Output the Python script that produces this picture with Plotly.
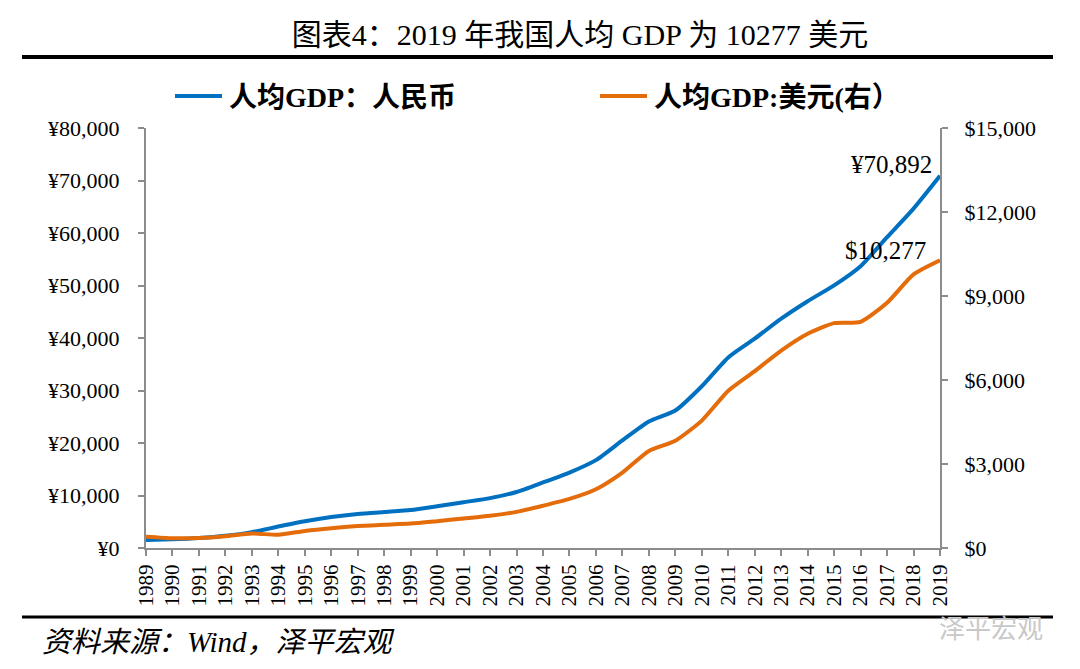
import plotly.graph_objects as go

years = list(range(1989, 2020))
gdp_rmb = [1519, 1663, 1912, 2334, 3027, 4081, 5091, 5898, 6481, 6860,
           7229, 7942, 8717, 9506, 10666, 12487, 14368, 16738, 20494, 24100,
           26180, 30808, 36302, 39874, 43684, 47005, 50028, 53680, 59201, 64644,
           70892]
gdp_usd = [403, 348, 357, 423, 520, 470, 610, 709, 782, 829,
           873, 959, 1053, 1149, 1289, 1509, 1753, 2099, 2694, 3468,
           3832, 4550, 5618, 6317, 7051, 7651, 8033, 8079, 8759, 9771,
           10277]
names = ['人均GDP：人民币', '人均GDP:美元(右）']
colors = ['#0070C0', '#E46C0A']

# page has an 8px body margin, so the figure is drawn 8px in from the window edge
OFF = 8
W, H = 1080 - OFF * 2, 669 - OFF * 2
L, R, T, B = 146 - OFF, 940 - OFF, 128 - OFF, 548 - OFF


def px_x(x):
    return (x - OFF - L) / (R - L)


def px_y(y):
    return (B - (y - OFF)) / (B - T)


serif = "Liberation Serif, Noto Sans CJK SC"

fig = go.Figure()
fig.add_trace(go.Scatter(x=years, y=gdp_rmb, mode='lines', name=names[0],
                         line=dict(color=colors[0], width=4, shape='spline', smoothing=0.6)))
fig.add_trace(go.Scatter(x=years, y=gdp_usd, mode='lines', name=names[1], yaxis='y2',
                         line=dict(color=colors[1], width=4, shape='spline', smoothing=0.6)))

axis_common = dict(showline=True, linecolor='#8c8c8c', linewidth=2, ticks='outside',
                   tickcolor='#8c8c8c', ticklen=6, tickwidth=2, showgrid=False, zeroline=False,
                   tickfont=dict(family=serif, size=22, color='black'))

fig.update_layout(
    width=W, height=H,
    paper_bgcolor='white', plot_bgcolor='white',
    margin=dict(l=L, r=W - R, t=T, b=H - B, autoexpand=False),
    title=dict(text='图表4：2019 年我国人均 GDP 为 10277 美元', x=px_x(580), xref='paper',
               xanchor='center', y=1 - (34 - OFF) / H, yanchor='middle',
               font=dict(family=serif, size=30, color='black')),
    xaxis=dict(range=[1989, 2019], tickvals=years, ticktext=[str(y) for y in years],
               tickangle=-90, **axis_common),
    yaxis=dict(range=[0, 80000], dtick=10000, tickprefix='¥', tickformat=',',
               ticklabelstandoff=14, **axis_common),
    yaxis2=dict(range=[0, 15000], dtick=3000, tickprefix='$', tickformat=',', overlaying='y',
                side='right', ticklabelstandoff=12, **axis_common),
    showlegend=False,
)

fig.update_xaxes(tickfont=dict(size=21))

# legend drawn by hand so both entries sit on one row
for sx, name, color in zip([175, 600], names, colors):
    fig.add_shape(type='line', xref='paper', yref='paper', x0=px_x(sx), x1=px_x(sx + 47),
                  y0=px_y(96), y1=px_y(96), line=dict(color=color, width=4))
    fig.add_annotation(xref='paper', yref='paper', x=px_x(sx + 52), y=px_y(97), xanchor='left',
                       yanchor='middle', showarrow=False, text='<b>' + name + '</b>',
                       font=dict(family=serif, size=28, color='black'))

# data labels at the last points
fig.add_annotation(x=2019, y=gdp_rmb[-1], text='¥70,892', showarrow=False, xanchor='right',
                   yanchor='bottom', xshift=-6, yshift=-4, font=dict(family=serif, size=25, color='black'))
fig.add_annotation(x=2019, y=gdp_usd[-1], yref='y2', text='$10,277', showarrow=False, xanchor='right',
                   yanchor='bottom', xshift=-12, yshift=-6, font=dict(family=serif, size=25, color='black'))

# thick black rules
fig.add_shape(type='line', xref='paper', yref='paper', x0=px_x(22), x1=px_x(1053),
              y0=px_y(57), y1=px_y(57), line=dict(color='black', width=4))
fig.add_shape(type='line', xref='paper', yref='paper', x0=px_x(22), x1=px_x(1053),
              y0=px_y(617), y1=px_y(617), line=dict(color='black', width=3))

fig.add_annotation(xref='paper', yref='paper', x=px_x(40), y=px_y(642), xanchor='left',
                   yanchor='middle', showarrow=False, text='<i>资料来源：Wind，泽平宏观</i>',
                   font=dict(family=serif, size=29, color='black'))
fig.add_annotation(xref='paper', yref='paper', x=px_x(1045), y=px_y(626), xanchor='right',
                   yanchor='middle', showarrow=False, text='泽平宏观',
                   font=dict(family='Noto Sans CJK SC', size=26, color='#c8c8c8'))

fig.write_html("out.html")
